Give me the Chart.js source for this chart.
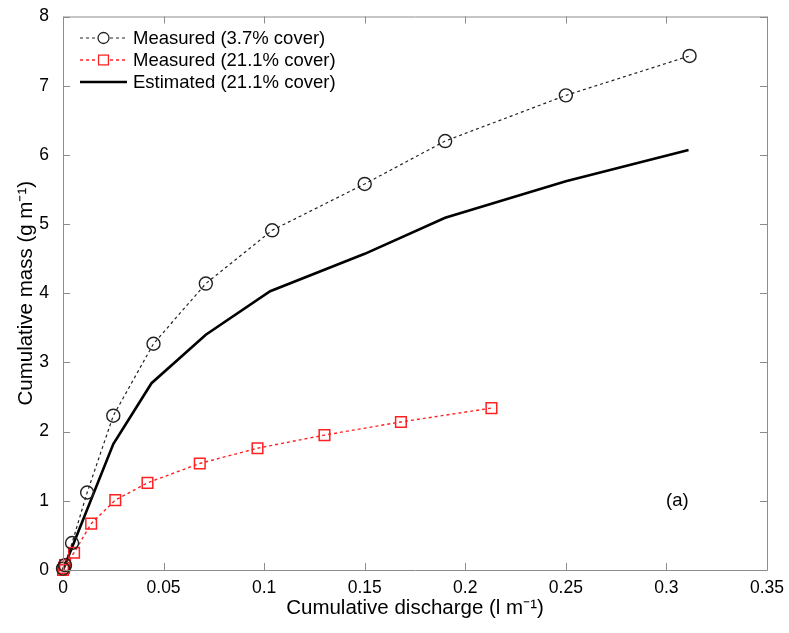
<!DOCTYPE html>
<html>
<head>
<meta charset="utf-8">
<script src="https://cdn.jsdelivr.net/npm/chart.js@4.4.1/dist/chart.umd.min.js"></script>
<style>
  html, body { margin: 0; padding: 0; background: #fff; }
  #wrap { width: 789px; height: 633px; }
</style>
</head>
<body>
<div id="wrap"><canvas id="c"></canvas></div>
<script>
// values
const discharge37 = [0, 0.001, 0.0045, 0.012, 0.025, 0.045, 0.071, 0.104, 0.150, 0.190, 0.250, 0.3115];
const mass37      = [0.02, 0.07, 0.39, 1.12, 2.23, 3.27, 4.14, 4.91, 5.58, 6.20, 6.86, 7.43];

const discharge211 = [0, 0.0005, 0.001, 0.0055, 0.014, 0.026, 0.042, 0.068, 0.0967, 0.130, 0.168, 0.213];
const mass211      = [0, 0.03, 0.07, 0.25, 0.67, 1.01, 1.26, 1.54, 1.76, 1.95, 2.14, 2.34];

const dischargeEst = [0, 0.025, 0.044, 0.071, 0.103, 0.150, 0.190, 0.250, 0.311];
const massEst      = [0, 1.82, 2.70, 3.40, 4.03, 4.57, 5.09, 5.62, 6.07];

const xTickLabels = ['0', '0.05', '0.1', '0.15', '0.2', '0.25', '0.3', '0.35'];
const yTickLabels = ['0', '1', '2', '3', '4', '5', '6', '7', '8'];

const seriesNames = ['Measured (3.7% cover)', 'Measured (21.1% cover)', 'Estimated (21.1% cover)'];

function toPoints(xs, ys) {
    return xs.map((x, i) => ({ x: x, y: ys[i] }));
}

const FONT = '"Liberation Sans", Arial, sans-serif';
const AXIS_GREY = '#8c8c8c';

// MATLAB style box with inward ticks on all four sides
const boxPlugin = {
    id: 'box',
    afterDatasetsDraw(chart) {
        const ctx = chart.ctx;
        const a = chart.chartArea;
        const xs = chart.scales.x;
        const ys = chart.scales.y;
        const len = 7;
        ctx.save();
        ctx.strokeStyle = AXIS_GREY;
        ctx.lineWidth = 1;
        ctx.beginPath();
        ctx.rect(a.left + 0.5, a.top + 0.5, a.right - a.left, a.bottom - a.top);
        xs.ticks.forEach(t => {
            const px = Math.round(xs.getPixelForValue(t.value)) + 0.5;
            ctx.moveTo(px, a.bottom); ctx.lineTo(px, a.bottom - len);
            ctx.moveTo(px, a.top); ctx.lineTo(px, a.top + len);
        });
        ys.ticks.forEach(t => {
            const py = Math.round(ys.getPixelForValue(t.value)) + 0.5;
            ctx.moveTo(a.left, py); ctx.lineTo(a.left + len, py);
            ctx.moveTo(a.right, py); ctx.lineTo(a.right - len, py);
        });
        ctx.stroke();
        ctx.restore();
    }
};

// legend in the top left corner, line sample with marker like MATLAB
const legendPlugin = {
    id: 'matlabLegend',
    afterDraw(chart) {
        const ctx = chart.ctx;
        const rows = [38, 60, 82];
        const x0 = 80, x1 = 127, tx = 133;
        ctx.save();
        chart.data.datasets.forEach((ds, i) => {
            const y = rows[i];
            ctx.strokeStyle = ds.borderColor;
            ctx.lineWidth = ds.borderWidth;
            ctx.setLineDash(ds.borderDash || []);
            ctx.beginPath();
            ctx.moveTo(x0, y); ctx.lineTo(x1, y);
            ctx.stroke();
            ctx.setLineDash([]);
            if (ds.pointRadius > 0) {
                ctx.fillStyle = '#fff';
                ctx.strokeStyle = ds.pointBorderColor;
                ctx.lineWidth = 1.3;
                Chart.helpers.drawPoint(ctx, {
                    pointStyle: ds.pointStyle,
                    radius: ds.pointStyle === 'rect' ? 7 : 5.5,
                    borderWidth: 1.3,
                    rotation: 0
                }, (x0 + x1) / 2, y);
            }
            ctx.fillStyle = '#000';
            ctx.font = '18.5px ' + FONT;
            ctx.textBaseline = 'middle';
            ctx.textAlign = 'left';
            ctx.fillText(ds.label, tx, y + 1);
        });
        ctx.font = '18.5px ' + FONT;
        ctx.fillText('(a)', 666, 501);
        ctx.restore();
    }
};

const config = {
    type: 'line',
    data: {
        datasets: [
            {
                label: seriesNames[0],
                data: toPoints(discharge37, mass37),
                borderColor: '#222',
                backgroundColor: 'rgba(0,0,0,0)',
                borderWidth: 1.2,
                borderDash: [3, 3],
                pointStyle: 'circle',
                pointRadius: 6.5,
                pointBorderWidth: 1.4,
                pointBorderColor: '#222',
                pointBackgroundColor: 'rgba(0,0,0,0)',
                tension: 0,
                clip: false
            },
            {
                label: seriesNames[1],
                data: toPoints(discharge211, mass211),
                borderColor: '#ff2020',
                backgroundColor: 'rgba(0,0,0,0)',
                borderWidth: 1.4,
                borderDash: [3, 3],
                pointStyle: 'rect',
                pointRadius: 7.5,
                pointBorderWidth: 1.5,
                pointBorderColor: '#ff2020',
                pointBackgroundColor: 'rgba(0,0,0,0)',
                tension: 0,
                clip: false
            },
            {
                label: seriesNames[2],
                data: toPoints(dischargeEst, massEst),
                borderColor: '#000',
                backgroundColor: 'rgba(0,0,0,0)',
                borderWidth: 2.6,
                pointRadius: 0,
                tension: 0,
                clip: false
            }
        ]
    },
    options: {
        responsive: true,
        maintainAspectRatio: false,
        animation: false,
        events: [],
        layout: { padding: { top: 11, right: 22, left: 14, bottom: 12 } },
        plugins: {
            legend: { display: false },
            tooltip: { enabled: false }
        },
        scales: {
            x: {
                type: 'linear',
                min: 0,
                max: 0.35,
                afterBuildTicks(scale) {
                    scale.ticks = xTickLabels.map(v => ({ value: parseFloat(v) }));
                },
                ticks: {
                    color: '#000',
                    font: { family: FONT, size: 17.5 },
                    padding: 0,
                    maxRotation: 0,
                    callback: (v, i) => xTickLabels[i]
                },
                grid: { display: false },
                border: { display: false },
                title: {
                    display: true,
                    text: 'Cumulative discharge (l m⁻¹)',
                    color: '#000',
                    font: { family: FONT, size: 20.5 },
                    padding: { top: 0, bottom: 0 }
                },
                afterFit(scale) { scale.height = 51; }
            },
            y: {
                type: 'linear',
                min: 0,
                max: 8,
                afterBuildTicks(scale) {
                    scale.ticks = yTickLabels.map(v => ({ value: parseFloat(v) }));
                },
                ticks: {
                    color: '#000',
                    font: { family: FONT, size: 17.5 },
                    padding: 6,
                    callback: (v, i) => yTickLabels[i]
                },
                grid: { display: false },
                border: { display: false },
                title: {
                    display: true,
                    text: 'Cumulative mass (g m⁻¹)',
                    color: '#000',
                    font: { family: FONT, size: 20.5 },
                    padding: { top: 0, bottom: 0 }
                },
                afterFit(scale) { scale.width = 49; }
            }
        }
    },
    plugins: [boxPlugin, legendPlugin]
};

new Chart(document.getElementById('c'), config);
</script>
</body>
</html>
